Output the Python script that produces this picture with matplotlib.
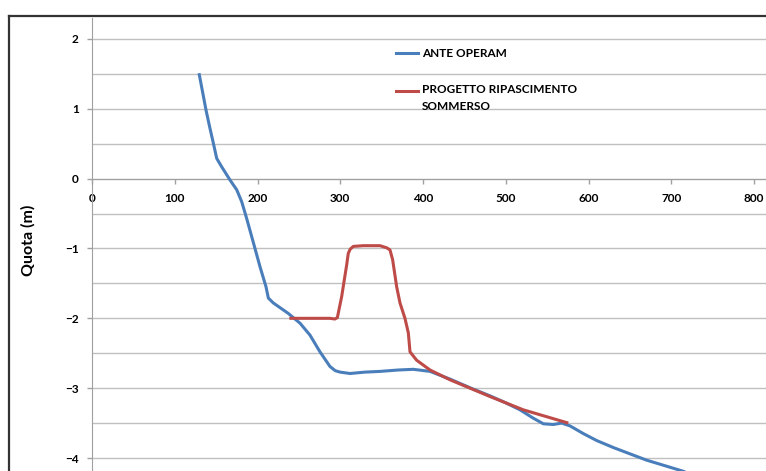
import matplotlib
matplotlib.use('Agg')
import matplotlib.pyplot as plt
from matplotlib.lines import Line2D
from matplotlib.ticker import MultipleLocator

plt.rcParams['font.family'] = ['Lato', 'DejaVu Sans']

# Profilo ante operam (distanza m, quota m)
ante_x = [129.3, 133.5, 137.8, 142.2, 146.6, 150.7, 156.7, 161.5, 166.8, 174.9,
          180.9, 186.9, 193.0, 203.0, 210.3, 213.1, 219.1, 237.2, 251.4, 263.4,
          275.5, 287.6, 294.0, 299.7, 311.8, 330.0, 348.0, 370.0, 388.3, 408.5,
          432.6, 458.0, 481.0, 500.0, 517.2, 533.3, 545.4, 557.5, 567.6, 577.6,
          593.7, 609.9, 630.0, 670.0, 714.6, 730.0]
ante_y = [1.51, 1.25, 0.98, 0.74, 0.51, 0.29, 0.17, 0.08, -0.02, -0.16,
          -0.33, -0.57, -0.83, -1.26, -1.55, -1.71, -1.78, -1.93, -2.07, -2.24,
          -2.48, -2.69, -2.75, -2.77, -2.79, -2.77, -2.76, -2.74, -2.73, -2.76,
          -2.87, -3.00, -3.11, -3.21, -3.31, -3.43, -3.51, -3.52, -3.50, -3.54,
          -3.65, -3.75, -3.85, -4.03, -4.19, -4.26]

# Profilo di progetto (ripascimento sommerso)
prog_x = [238.5, 287.6, 293.5, 296.5, 301.7, 307.7, 309.7, 312.0, 315.8, 327.8,
          348.0, 356.1, 360.1, 363.3, 368.2, 372.2, 378.2, 382.3, 384.3, 392.3,
          408.5, 432.6, 481.0, 521.2, 575.6]
prog_y = [-2.00, -2.00, -2.01, -1.99, -1.69, -1.24, -1.07, -1.01, -0.97, -0.96,
          -0.96, -0.99, -1.02, -1.16, -1.55, -1.78, -2.00, -2.21, -2.48, -2.60,
          -2.74, -2.88, -3.12, -3.31, -3.50]

labels = ['ANTE OPERAM', 'PROGETTO RIPASCIMENTO\nSOMMERSO']
colors = ['#4a7ebb', '#be4b48']

W, H = 766, 471
fig = plt.figure(figsize=(W / 100, H / 100), dpi=100)
ax = fig.add_axes([92 / W, 0, 674 / W, 453 / H])

ax.plot(ante_x, ante_y, color=colors[0], lw=2.2, solid_joinstyle='round', solid_capstyle='butt', zorder=3)
ax.plot(prog_x, prog_y, color=colors[1], lw=2.2, solid_joinstyle='round', solid_capstyle='butt', zorder=4)

ax.set_xlim(0, 814.5)
ax.set_ylim(-4.186, 2.30)

ax.xaxis.set_major_locator(MultipleLocator(100))
ax.yaxis.set_major_locator(MultipleLocator(1))
ax.yaxis.set_minor_locator(MultipleLocator(0.5))
ax.grid(which='both', axis='y', color='#c0c0c0', lw=1.0)
ax.set_axisbelow(True)

for s in ['top', 'right']:
    ax.spines[s].set_visible(False)
ax.spines['bottom'].set_position(('data', 0))
ax.spines['bottom'].set_color('#a0a0a0')
ax.spines['left'].set_color('#a0a0a0')
ax.spines['bottom'].set_zorder(2)

ax.tick_params(axis='both', which='major', direction='out', length=3.6, width=1,
               color='#a0a0a0', labelsize=8.5)
ax.tick_params(axis='y', which='minor', length=0)
ax.tick_params(axis='y', pad=6)
ax.tick_params(axis='x', pad=6.5)
for lab in ax.get_yticklabels():
    lab.set_fontweight('bold')

ax.set_xticks(range(0, 900, 100))
ax.set_xticklabels([str(v) for v in range(0, 900, 100)], fontweight='bold')

# legenda
tr = ax.transAxes
ax.add_line(Line2D([0.451, 0.484], [0.9227, 0.9227], transform=tr, color=colors[0], lw=2.2))
ax.add_line(Line2D([0.451, 0.484], [0.8389, 0.8389], transform=tr, color=colors[1], lw=2.2))
ax.text(0.4896, 0.9227, labels[0], transform=tr, fontsize=8.5, fontweight='bold', va='center')
ax.text(0.4896, 0.8389 + 0.016, labels[1], transform=tr, fontsize=8.5, fontweight='bold',
        va='top', linespacing=1.65)

fig.text(28 / W, 1 - 240 / H, 'Quota (m)', rotation=90, fontsize=11.5, fontweight='bold',
         ha='center', va='center')

# cornice del grafico
fig.add_artist(Line2D([9 / W, 9 / W], [0, 1 - 16 / H], color='#333333', lw=1.6))
fig.add_artist(Line2D([9 / W, 1], [1 - 16 / H, 1 - 16 / H], color='#333333', lw=1.6))

fig.savefig('out.png', dpi=100)
